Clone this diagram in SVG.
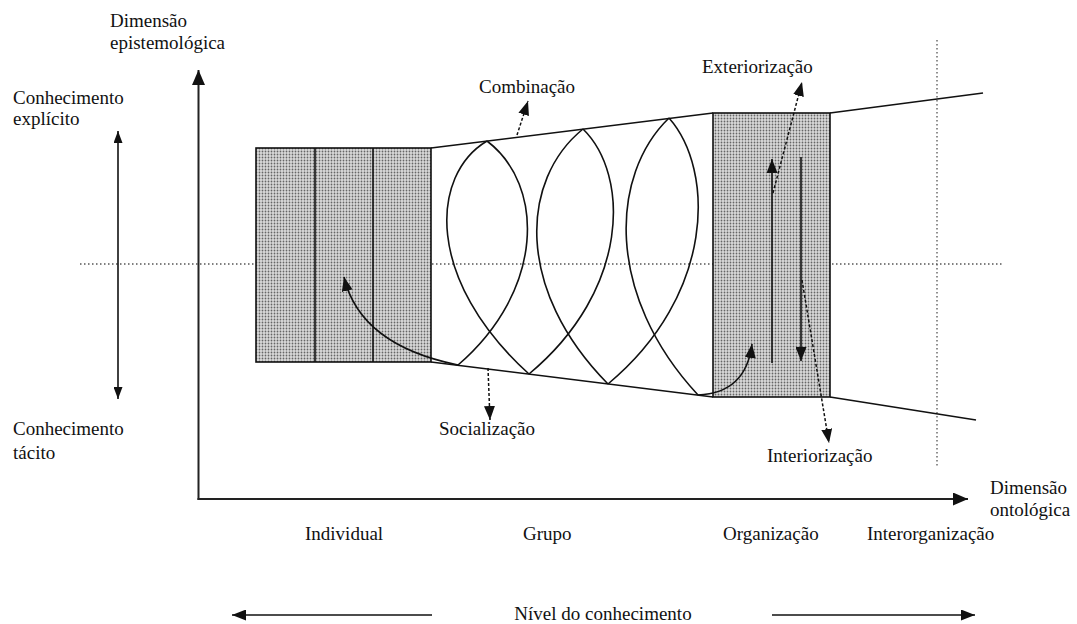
<svg xmlns="http://www.w3.org/2000/svg" width="1077" height="624" viewBox="0 0 1077 624">
<style>
text{font-family:"Liberation Serif","Times New Roman",serif;font-size:19px;fill:#111}
.ln{fill:none;stroke:#111;stroke-width:1.6}
.ax{fill:none;stroke:#222;stroke-width:2}
.dash{fill:none;stroke:#111;stroke-width:1.5;stroke-dasharray:3 2}
.dot{fill:none;stroke:#555;stroke-width:1.3;stroke-dasharray:1.5 2.5}
.box{fill:url(#dots);stroke:#111;stroke-width:1.6}
</style>
<defs>
<pattern id="dots" width="3" height="3" patternUnits="userSpaceOnUse">
<rect width="3" height="3" fill="#dadada"/>
<circle cx="1.5" cy="1.5" r="0.9" fill="#666"/>
</pattern>
<marker id="big" viewBox="0 0 15 13" refX="15" refY="6.5" markerWidth="15" markerHeight="13" orient="auto" markerUnits="userSpaceOnUse"><path d="M0,0 L15,6.5 L0,13 z" fill="#111"/></marker>
<marker id="ah" viewBox="0 0 14 11" refX="14" refY="5.5" markerWidth="14" markerHeight="11" orient="auto" markerUnits="userSpaceOnUse"><path d="M0,0 L14,5.5 L0,11 z" fill="#111"/></marker>
<marker id="ahs" viewBox="0 0 12 9" refX="12" refY="4.5" markerWidth="12" markerHeight="9" orient="auto-start-reverse" markerUnits="userSpaceOnUse"><path d="M0,0 L12,4.5 L0,9 z" fill="#111"/></marker>
</defs>

<g id="grid">
<line class="dot" x1="80" y1="264" x2="1003" y2="264"/>
<line class="dot" x1="937" y1="40" x2="937" y2="467"/>
</g>

<g id="individual">
<rect class="box" x="256" y="148" width="175" height="214"/>
<line class="ln" x1="315" y1="148" x2="315" y2="362"/>
<line class="ln" x1="373" y1="148" x2="373" y2="362"/>
</g>

<g id="organizacao">
<rect class="box" x="713" y="113" width="117" height="284"/>
</g>

<g id="grupo">
<line class="ln" x1="431" y1="148" x2="713" y2="113"/>
<line class="ln" x1="431" y1="362" x2="713" y2="397"/>
<path class="ln" d="M487 141 C430 175 425 280 529 374"/>
<path class="ln" d="M487 141 C545 185 545 290 458 365"/>
<path class="ln" d="M583 129 C520 180 515 290 608 384"/>
<path class="ln" d="M583 129 C630 175 630 290 529 374"/>
<path class="ln" d="M669 118 C610 175 605 295 698 395"/>
<path class="ln" d="M669 118 C715 170 715 295 608 384"/>
</g>

<g id="interorganizacao">
<line class="ln" x1="830" y1="113" x2="983" y2="93"/>
<line class="ln" x1="830" y1="397" x2="976" y2="420"/>
</g>

<g id="connectors">
<line class="ax" x1="198.5" y1="500" x2="198.5" y2="70" marker-end="url(#big)"/>
<line class="ax" x1="197.5" y1="499" x2="968" y2="499" marker-end="url(#big)"/>
<line class="ln" x1="118" y1="131" x2="118" y2="399" marker-start="url(#ahs)" marker-end="url(#ahs)"/>
<line class="ln" x1="432" y1="615" x2="232" y2="615" marker-end="url(#ah)"/>
<line class="ln" x1="772" y1="615" x2="975" y2="615" marker-end="url(#ah)"/>
<path class="ln" d="M458 365 Q360 345 344 277" marker-end="url(#ah)"/>
<path class="ln" d="M698 395 Q746 393 752 344" marker-end="url(#ah)"/>
<line class="ln" x1="772" y1="363" x2="772" y2="159" marker-end="url(#ah)"/>
<line class="ln" x1="801" y1="157" x2="801" y2="361" marker-end="url(#ah)"/>
<line class="dash" x1="773" y1="193" x2="802" y2="82" marker-end="url(#ah)"/>
<line class="dash" x1="802" y1="280" x2="829" y2="443" marker-end="url(#ah)"/>
<line class="dash" x1="517" y1="135" x2="528" y2="101" marker-end="url(#ah)"/>
<line class="dash" x1="488" y1="368" x2="490" y2="420" marker-end="url(#ah)"/>
</g>

<g id="labels">
<text x="110" y="27">Dimensão</text>
<text x="110" y="49">epistemológica</text>
<text x="13" y="104">Conhecimento</text>
<text x="13" y="125">explícito</text>
<text x="13" y="435">Conhecimento</text>
<text x="13" y="459">tácito</text>
<text x="479" y="93">Combinação</text>
<text x="702" y="73">Exteriorização</text>
<text x="439" y="435">Socialização</text>
<text x="767" y="462">Interiorização</text>
<text x="305" y="540">Individual</text>
<text x="523" y="540">Grupo</text>
<text x="723" y="540">Organização</text>
<text x="867" y="540">Interorganização</text>
<text x="990" y="494">Dimensão</text>
<text x="990" y="516">ontológica</text>
<text x="603" y="620" text-anchor="middle">Nível do conhecimento</text>
</g>
</svg>
